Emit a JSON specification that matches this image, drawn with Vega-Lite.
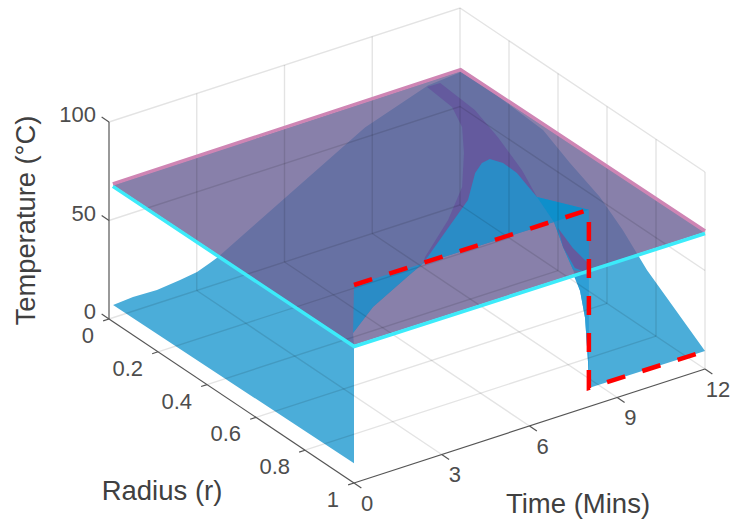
{
"$schema":"https://vega.github.io/schema/vega-lite/v6.json",
"width":730,"height":522,"padding":0,"autosize":"none","background":"white",
"config":{"view":{"stroke":null}},
"data":{"values":[
{"part":"surface","seq":1,"time":0.14,"radius":0,"temp":6.4},
{"part":"surface","seq":2,"time":0.82,"radius":0,"temp":7.2},
{"part":"surface","seq":3,"time":1.64,"radius":0,"temp":6.8},
{"part":"surface","seq":4,"time":2.43,"radius":0,"temp":8.1},
{"part":"surface","seq":5,"time":3.01,"radius":0,"temp":9.3},
{"part":"surface","seq":6,"time":3.45,"radius":0,"temp":11.8},
{"part":"surface","seq":7,"time":3.73,"radius":0,"temp":13.5},
{"part":"surface","seq":8,"time":8.75,"radius":0,"temp":55},
{"part":"surface","seq":9,"time":10.9,"radius":0,"temp":66},
{"part":"surface","seq":10,"time":12.03,"radius":0,"temp":67.4},
{"part":"surface","seq":11,"time":12,"radius":0.122,"temp":68.5},
{"part":"surface","seq":12,"time":12,"radius":0.339,"temp":66.3},
{"part":"surface","seq":13,"time":12,"radius":0.449,"temp":58.7},
{"part":"surface","seq":14,"time":12,"radius":0.571,"temp":51.6},
{"part":"surface","seq":15,"time":12,"radius":0.665,"temp":42.6},
{"part":"surface","seq":16,"time":12,"radius":0.763,"temp":30.5},
{"part":"surface","seq":17,"time":12,"radius":1,"temp":9.1},
{"part":"surface","seq":18,"time":8.03,"radius":1,"temp":9.5},
{"part":"surface","seq":19,"time":8,"radius":1,"temp":23},
{"part":"surface","seq":20,"time":7.9,"radius":1,"temp":45.7},
{"part":"surface","seq":21,"time":7.73,"radius":1,"temp":60.2},
{"part":"surface","seq":22,"time":7.76,"radius":0.968,"temp":68},
{"part":"surface","seq":23,"time":8.32,"radius":0.86,"temp":68},
{"part":"surface","seq":24,"time":8.97,"radius":0.745,"temp":68},
{"part":"surface","seq":25,"time":6.84,"radius":1,"temp":99.5},
{"part":"surface","seq":26,"time":2.36,"radius":1,"temp":100},
{"part":"surface","seq":27,"time":3.7,"radius":0.775,"temp":68},
{"part":"surface","seq":28,"time":1.88,"radius":0.853,"temp":68},
{"part":"surface","seq":29,"time":0.53,"radius":0.933,"temp":68},
{"part":"surface","seq":30,"time":0,"radius":1,"temp":70},
{"part":"surface","seq":31,"time":0,"radius":1,"temp":10},

{"part":"plate","seq":1,"time":0.09,"radius":0.005,"temp":68},
{"part":"plate","seq":2,"time":12.02,"radius":0,"temp":68},
{"part":"plate","seq":3,"time":12.1,"radius":0.988,"temp":68},
{"part":"plate","seq":4,"time":0.14,"radius":0.984,"temp":68},

{"part":"channel","seq":1,"time":10.69,"radius":0.022,"temp":68},
{"part":"channel","seq":2,"time":10.58,"radius":0.137,"temp":68},
{"part":"channel","seq":3,"time":10.12,"radius":0.233,"temp":68},
{"part":"channel","seq":4,"time":9.27,"radius":0.342,"temp":68},
{"part":"channel","seq":5,"time":8.06,"radius":0.479,"temp":68},
{"part":"channel","seq":6,"time":6.6,"radius":0.596,"temp":68},
{"part":"channel","seq":7,"time":4.8,"radius":0.717,"temp":68},
{"part":"channel","seq":8,"time":4.55,"radius":0.739,"temp":68},
{"part":"channel","seq":9,"time":7.22,"radius":0.693,"temp":68},
{"part":"channel","seq":10,"time":9.44,"radius":0.62,"temp":68},
{"part":"channel","seq":11,"time":10.02,"radius":0.489,"temp":68},
{"part":"channel","seq":12,"time":10.6,"radius":0.322,"temp":68},
{"part":"channel","seq":13,"time":11,"radius":0.18,"temp":68},
{"part":"channel","seq":14,"time":11.13,"radius":0.023,"temp":68},

{"part":"sliverP","seq":1,"time":8.86,"radius":0.775,"temp":68},
{"part":"sliverP","seq":2,"time":8.51,"radius":0.877,"temp":68},
{"part":"sliverP","seq":3,"time":8.34,"radius":0.959,"temp":68},
{"part":"sliverP","seq":4,"time":8.0,"radius":1,"temp":68},
{"part":"sliverP","seq":5,"time":7.87,"radius":0.962,"temp":68},
{"part":"sliverP","seq":6,"time":8.32,"radius":0.86,"temp":68},

{"part":"hot1","seq":1,"time":0,"radius":1,"temp":100.5},
{"part":"hot1","seq":2,"time":2.36,"radius":1,"temp":100},
{"part":"hot1","seq":3,"time":3.7,"radius":0.775,"temp":68},
{"part":"hot1","seq":4,"time":1.88,"radius":0.853,"temp":68},
{"part":"hot1","seq":5,"time":0.53,"radius":0.933,"temp":68},

{"part":"hot2","seq":1,"time":2.36,"radius":1,"temp":100},
{"part":"hot2","seq":2,"time":6.32,"radius":0.629,"temp":68},
{"part":"hot2","seq":3,"time":7.75,"radius":0.54,"temp":68},
{"part":"hot2","seq":4,"time":8.84,"radius":0.439,"temp":68},
{"part":"hot2","seq":5,"time":9.34,"radius":0.407,"temp":68},
{"part":"hot2","seq":6,"time":9.66,"radius":0.401,"temp":68},
{"part":"hot2","seq":7,"time":9.83,"radius":0.435,"temp":68},
{"part":"hot2","seq":8,"time":9.8,"radius":0.495,"temp":68},
{"part":"hot2","seq":9,"time":9.62,"radius":0.557,"temp":68},
{"part":"hot2","seq":10,"time":9.44,"radius":0.62,"temp":68},
{"part":"hot2","seq":11,"time":8.03,"radius":1,"temp":100},
{"part":"hot2","seq":12,"time":8.03,"radius":1,"temp":68},
{"part":"hot2","seq":13,"time":7.76,"radius":0.968,"temp":68},
{"part":"hot2","seq":14,"time":8.32,"radius":0.86,"temp":68},
{"part":"hot2","seq":15,"time":8.97,"radius":0.745,"temp":68},
{"part":"hot2","seq":16,"time":6.84,"radius":1,"temp":99.5},

{"part":"hot3","seq":1,"time":9.44,"radius":0.62,"temp":68},
{"part":"hot3","seq":2,"time":8.03,"radius":1,"temp":100},
{"part":"hot3","seq":3,"time":8.97,"radius":0.745,"temp":68},

{"part":"under","seq":1,"time":7.76,"radius":0.968,"temp":66},
{"part":"under","seq":2,"time":8.03,"radius":1,"temp":67},
{"part":"under","seq":3,"time":8.03,"radius":1,"temp":9.5},
{"part":"under","seq":4,"time":8,"radius":1,"temp":23},
{"part":"under","seq":5,"time":7.9,"radius":1,"temp":45.7},
{"part":"under","seq":6,"time":7.73,"radius":1,"temp":60.2},

{"part":"grid","id":"f1","seq":0,"time":0,"radius":0.2,"temp":0},{"part":"grid","id":"f1","seq":1,"time":12,"radius":0.2,"temp":0},
{"part":"grid","id":"f2","seq":0,"time":0,"radius":0.4,"temp":0},{"part":"grid","id":"f2","seq":1,"time":12,"radius":0.4,"temp":0},
{"part":"grid","id":"f3","seq":0,"time":0,"radius":0.6,"temp":0},{"part":"grid","id":"f3","seq":1,"time":12,"radius":0.6,"temp":0},
{"part":"grid","id":"f4","seq":0,"time":0,"radius":0.8,"temp":0},{"part":"grid","id":"f4","seq":1,"time":12,"radius":0.8,"temp":0},
{"part":"grid","id":"f5","seq":0,"time":0,"radius":0,"temp":0},{"part":"grid","id":"f5","seq":1,"time":12,"radius":0,"temp":0},
{"part":"grid","id":"g1","seq":0,"time":3,"radius":0,"temp":0},{"part":"grid","id":"g1","seq":1,"time":3,"radius":1,"temp":0},
{"part":"grid","id":"g2","seq":0,"time":6,"radius":0,"temp":0},{"part":"grid","id":"g2","seq":1,"time":6,"radius":1,"temp":0},
{"part":"grid","id":"g3","seq":0,"time":9,"radius":0,"temp":0},{"part":"grid","id":"g3","seq":1,"time":9,"radius":1,"temp":0},
{"part":"grid","id":"g4","seq":0,"time":12,"radius":0,"temp":0},{"part":"grid","id":"g4","seq":1,"time":12,"radius":1,"temp":0},
{"part":"grid","id":"v1","seq":0,"time":3,"radius":0,"temp":0},{"part":"grid","id":"v1","seq":1,"time":3,"radius":0,"temp":100},
{"part":"grid","id":"v2","seq":0,"time":6,"radius":0,"temp":0},{"part":"grid","id":"v2","seq":1,"time":6,"radius":0,"temp":100},
{"part":"grid","id":"v3","seq":0,"time":9,"radius":0,"temp":0},{"part":"grid","id":"v3","seq":1,"time":9,"radius":0,"temp":100},
{"part":"grid","id":"v4","seq":0,"time":12,"radius":0,"temp":0},{"part":"grid","id":"v4","seq":1,"time":12,"radius":0,"temp":100},
{"part":"grid","id":"w1","seq":0,"time":12,"radius":0.2,"temp":0},{"part":"grid","id":"w1","seq":1,"time":12,"radius":0.2,"temp":100},
{"part":"grid","id":"w2","seq":0,"time":12,"radius":0.4,"temp":0},{"part":"grid","id":"w2","seq":1,"time":12,"radius":0.4,"temp":100},
{"part":"grid","id":"w3","seq":0,"time":12,"radius":0.6,"temp":0},{"part":"grid","id":"w3","seq":1,"time":12,"radius":0.6,"temp":100},
{"part":"grid","id":"w4","seq":0,"time":12,"radius":0.8,"temp":0},{"part":"grid","id":"w4","seq":1,"time":12,"radius":0.8,"temp":100},
{"part":"grid","id":"w5","seq":0,"time":12,"radius":1,"temp":0},{"part":"grid","id":"w5","seq":1,"time":12,"radius":1,"temp":100},
{"part":"grid","id":"h1","seq":0,"time":0,"radius":0,"temp":50},{"part":"grid","id":"h1","seq":1,"time":12,"radius":0,"temp":50},{"part":"grid","id":"h1","seq":2,"time":12,"radius":1,"temp":50},
{"part":"grid","id":"h2","seq":0,"time":0,"radius":0,"temp":100},{"part":"grid","id":"h2","seq":1,"time":12,"radius":0,"temp":100},{"part":"grid","id":"h2","seq":2,"time":12,"radius":1,"temp":100},

{"part":"axis","id":"az","seq":0,"time":0,"radius":0,"temp":0},{"part":"axis","id":"az","seq":1,"time":0,"radius":0,"temp":100},
{"part":"axis","id":"ar","seq":0,"time":0,"radius":0,"temp":0},{"part":"axis","id":"ar","seq":1,"time":0,"radius":1,"temp":0},
{"part":"axis","id":"at","seq":0,"time":0,"radius":1,"temp":0},{"part":"axis","id":"at","seq":1,"time":12,"radius":1,"temp":0},
{"part":"axis","id":"z0","seq":0,"time":0,"radius":0,"temp":0},{"part":"axis","id":"z0","seq":1,"time":0,"radius":-0.03,"temp":0},
{"part":"axis","id":"z1","seq":0,"time":0,"radius":0,"temp":50},{"part":"axis","id":"z1","seq":1,"time":0,"radius":-0.03,"temp":50},
{"part":"axis","id":"z2","seq":0,"time":0,"radius":0,"temp":100},{"part":"axis","id":"z2","seq":1,"time":0,"radius":-0.03,"temp":100},
{"part":"axis","id":"r0","seq":0,"time":0,"radius":0,"temp":0},{"part":"axis","id":"r0","seq":1,"time":-0.2,"radius":0,"temp":0},
{"part":"axis","id":"r1","seq":0,"time":0,"radius":0.2,"temp":0},{"part":"axis","id":"r1","seq":1,"time":-0.2,"radius":0.2,"temp":0},
{"part":"axis","id":"r2","seq":0,"time":0,"radius":0.4,"temp":0},{"part":"axis","id":"r2","seq":1,"time":-0.2,"radius":0.4,"temp":0},
{"part":"axis","id":"r3","seq":0,"time":0,"radius":0.6,"temp":0},{"part":"axis","id":"r3","seq":1,"time":-0.2,"radius":0.6,"temp":0},
{"part":"axis","id":"r4","seq":0,"time":0,"radius":0.8,"temp":0},{"part":"axis","id":"r4","seq":1,"time":-0.2,"radius":0.8,"temp":0},
{"part":"axis","id":"r5","seq":0,"time":0,"radius":1,"temp":0},{"part":"axis","id":"r5","seq":1,"time":-0.2,"radius":1,"temp":0},
{"part":"axis","id":"t0","seq":0,"time":0,"radius":1,"temp":0},{"part":"axis","id":"t0","seq":1,"time":0,"radius":1.03,"temp":0},
{"part":"axis","id":"t1","seq":0,"time":3,"radius":1,"temp":0},{"part":"axis","id":"t1","seq":1,"time":3,"radius":1.03,"temp":0},
{"part":"axis","id":"t2","seq":0,"time":6,"radius":1,"temp":0},{"part":"axis","id":"t2","seq":1,"time":6,"radius":1.03,"temp":0},
{"part":"axis","id":"t3","seq":0,"time":9,"radius":1,"temp":0},{"part":"axis","id":"t3","seq":1,"time":9,"radius":1.03,"temp":0},
{"part":"axis","id":"t4","seq":0,"time":12,"radius":1,"temp":0},{"part":"axis","id":"t4","seq":1,"time":12,"radius":1.03,"temp":0},

{"part":"pink","seq":1,"time":0.09,"radius":0.005,"temp":68.6},
{"part":"pink","seq":2,"time":12.02,"radius":0,"temp":68.6},
{"part":"pink","seq":3,"time":12.1,"radius":0.988,"temp":68.6},
{"part":"cyan","seq":1,"time":0.09,"radius":0.005,"temp":67.3},
{"part":"cyan","seq":2,"time":0.14,"radius":0.984,"temp":67.3},
{"part":"cyan","seq":3,"time":12.1,"radius":0.988,"temp":67.3},

{"part":"red","seq":1,"time":0,"radius":1,"temp":100.5},
{"part":"red","seq":2,"time":8.03,"radius":1,"temp":100},
{"part":"red","seq":3,"time":8.03,"radius":1,"temp":9.5},
{"part":"red","seq":4,"time":12,"radius":1,"temp":9.1},

{"part":"zlabel","label":"100","time":0,"radius":0,"temp":100},
{"part":"zlabel","label":"50","time":0,"radius":0,"temp":50},
{"part":"zlabel","label":"0","time":0,"radius":0,"temp":0},
{"part":"rlabel","label":"0","time":0,"radius":0,"temp":0},
{"part":"rlabel","label":"0.2","time":0,"radius":0.2,"temp":0},
{"part":"rlabel","label":"0.4","time":0,"radius":0.4,"temp":0},
{"part":"rlabel","label":"0.6","time":0,"radius":0.6,"temp":0},
{"part":"rlabel","label":"0.8","time":0,"radius":0.8,"temp":0},
{"part":"rlabel","label":"1","time":0,"radius":1,"temp":0},
{"part":"tlabel","label":"0","time":0,"radius":1,"temp":0},
{"part":"tlabel","label":"3","time":3,"radius":1,"temp":0},
{"part":"tlabel","label":"6","time":6,"radius":1,"temp":0},
{"part":"tlabel","label":"9","time":9,"radius":1,"temp":0},
{"part":"tlabel","label":"12","time":12,"radius":1,"temp":0},
{"part":"rtitle","label":"Radius (r)","time":0,"radius":0.5,"temp":0},
{"part":"ttitle","label":"Time (Mins)","time":6,"radius":1,"temp":0},
{"part":"ztitle","label":"Temperature (°C)","time":0,"radius":0,"temp":50}
]},
"transform":[
{"calculate":"109+29.25*datum.time+245*datum.radius","as":"px"},
{"calculate":"319-9.5*datum.time+164*datum.radius-1.97*datum.temp","as":"py"}
],
"encoding":{
"x":{"field":"px","type":"quantitative","axis":null,"scale":{"domain":[0,730],"range":[0,730],"zero":false,"nice":false}},
"y":{"field":"py","type":"quantitative","axis":null,"scale":{"domain":[522,0],"range":[522,0],"zero":false,"nice":false}}
},
"layer":[
{"transform":[{"filter":"datum.part==='surface'"}],"mark":{"type":"line","fill":"#4BADD9","stroke":null},"encoding":{"order":{"field":"seq"}}},
{"transform":[{"filter":"datum.part==='plate'"}],"mark":{"type":"line","fill":"#6E6497","fillOpacity":0.82,"stroke":null},"encoding":{"order":{"field":"seq"}}},
{"transform":[{"filter":"datum.part==='channel'"}],"mark":{"type":"line","fill":"#645A9E","stroke":null},"encoding":{"order":{"field":"seq"}}},
{"transform":[{"filter":"datum.part==='hot1'"}],"mark":{"type":"line","fill":"#2A8CC6","stroke":null},"encoding":{"order":{"field":"seq"}}},
{"transform":[{"filter":"datum.part==='hot2'"}],"mark":{"type":"line","fill":"#2A8CC6","stroke":null},"encoding":{"order":{"field":"seq"}}},
{"transform":[{"filter":"datum.part==='hot3'"}],"mark":{"type":"line","fill":"#0E8FCB","stroke":null},"encoding":{"order":{"field":"seq"}}},
{"transform":[{"filter":"datum.part==='sliverP'"}],"mark":{"type":"line","fill":"#645A9E","stroke":null},"encoding":{"order":{"field":"seq"}}},
{"transform":[{"filter":"datum.part==='under'"}],"mark":{"type":"line","fill":"#2E9FD6","stroke":null},"encoding":{"order":{"field":"seq"}}},
{"transform":[{"filter":"datum.part==='grid'"}],"mark":{"type":"line","stroke":"#000000","strokeOpacity":0.11,"strokeWidth":1.4},"encoding":{"detail":{"field":"id"},"order":{"field":"seq"}}},
{"transform":[{"filter":"datum.part==='axis'"}],"mark":{"type":"line","stroke":"#555555","strokeWidth":1.2},"encoding":{"detail":{"field":"id"},"order":{"field":"seq"}}},
{"transform":[{"filter":"datum.part==='pink'"}],"mark":{"type":"line","stroke":"#CF85B4","strokeWidth":3.5},"encoding":{"order":{"field":"seq"}}},
{"transform":[{"filter":"datum.part==='cyan'"}],"mark":{"type":"line","stroke":"#3CEBFA","strokeWidth":3.5},"encoding":{"order":{"field":"seq"}}},
{"transform":[{"filter":"datum.part==='red'"}],"mark":{"type":"line","stroke":"#FF0000","strokeWidth":4.5,"strokeDash":[19,18]},"encoding":{"order":{"field":"seq"}}},
{"transform":[{"filter":"datum.part==='zlabel'"}],"mark":{"type":"text","font":"Liberation Sans","fontSize":22,"color":"#4D4D4D","align":"right","baseline":"middle","dx":-13,"dy":-7},"encoding":{"text":{"field":"label"}}},
{"transform":[{"filter":"datum.part==='rlabel'"}],"mark":{"type":"text","font":"Liberation Sans","fontSize":22,"color":"#4D4D4D","align":"right","baseline":"middle","dx":-15,"dy":17},"encoding":{"text":{"field":"label"}}},
{"transform":[{"filter":"datum.part==='tlabel'"}],"mark":{"type":"text","font":"Liberation Sans","fontSize":22,"color":"#4D4D4D","align":"center","baseline":"middle","dx":13,"dy":20.5},"encoding":{"text":{"field":"label"}}},
{"transform":[{"filter":"datum.part==='rtitle'"}],"mark":{"type":"text","font":"Liberation Sans","fontSize":27.5,"color":"#404040","align":"center","baseline":"middle","dx":-69.5,"dy":91},"encoding":{"text":{"field":"label"}}},
{"transform":[{"filter":"datum.part==='ttitle'"}],"mark":{"type":"text","font":"Liberation Sans","fontSize":27.5,"color":"#404040","align":"center","baseline":"middle","dx":48.5,"dy":79},"encoding":{"text":{"field":"label"}}},
{"transform":[{"filter":"datum.part==='ztitle'"}],"mark":{"type":"text","font":"Liberation Sans","fontSize":27.3,"color":"#404040","align":"center","baseline":"middle","angle":270,"dx":0,"dy":-82},"encoding":{"text":{"field":"label"}}}
]
}
